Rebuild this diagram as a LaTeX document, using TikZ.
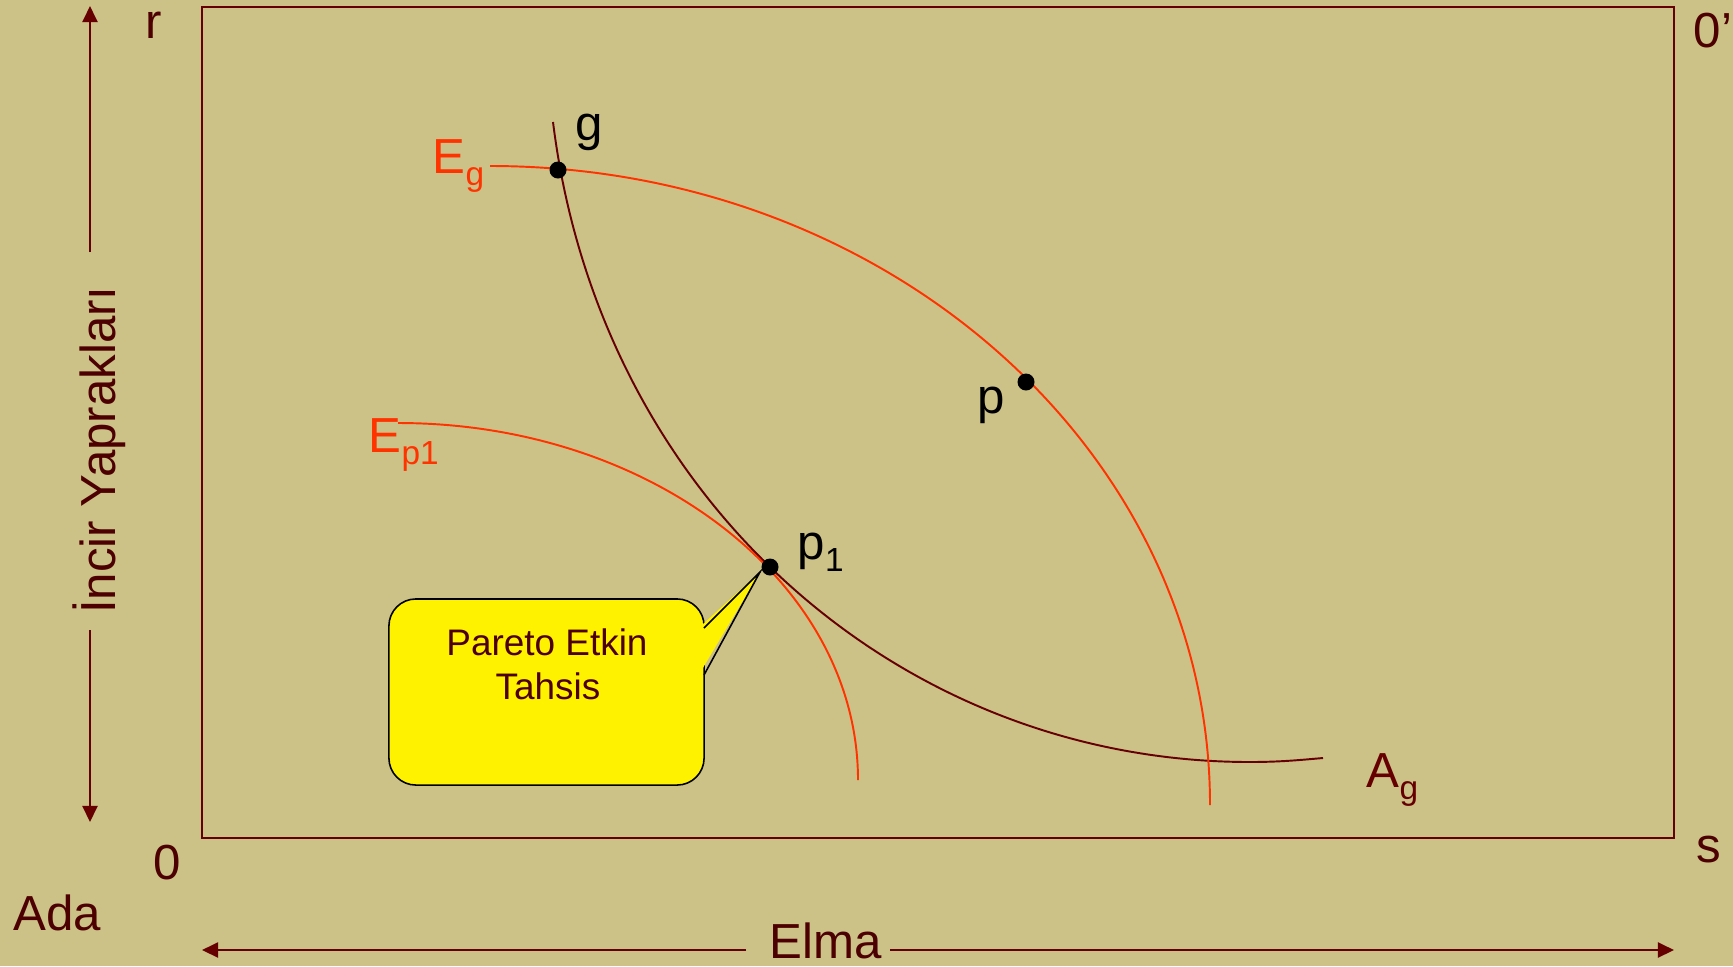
\documentclass[tikz,border=0pt]{standalone}
\usepackage{fontspec}
\setmainfont{Liberation Sans}
\usetikzlibrary{arrows.meta}
\definecolor{bgtan}{RGB}{204,193,135}
\definecolor{framered}{RGB}{102,0,0}
\definecolor{textred}{RGB}{77,0,0}
\definecolor{curvered}{RGB}{255,51,0}
\newcommand{\lblfont}{\fontsize{14}{16}\selectfont}
\newcommand{\subtxt}[1]{\raisebox{-3.5pt}{\fontsize{9.5}{11}\selectfont #1}}

\begin{document}
\begin{tikzpicture}[x=0.01cm, y=-0.01cm,
    frameline/.style={draw=framered, line width=0.6pt},
    axisarrow/.style={frameline, -{Triangle[width=4.3pt,length=4.6pt]}},
    lab/.style={inner sep=0pt, font=\lblfont, text=textred},
    ptlab/.style={inner sep=0pt, font=\lblfont, text=black},
    elab/.style={inner sep=0pt, font=\lblfont, text=curvered},
    acurve/.style={draw=framered, line width=0.55pt},
    ecurve/.style={draw=curvered, line width=0.55pt},
    ptdot/.style={circle, fill=black, inner sep=0pt, minimum size=0.17cm},
    calloutbox/.style={draw=black, fill=yellow, line width=0.45pt,
      rounded corners=0.27cm, inner sep=0pt},
    calloutlab/.style={inner sep=0pt, font=\fontsize{10.5}{12.5}\selectfont, text=textred},
  ]
  % background and margins
  \fill[bgtan] (0,0) rectangle (1733,966);
  \useasboundingbox (0,0) rectangle (1733,966);

  % Edgeworth box
  \coordinate (o)  at (202,838);
  \coordinate (o2) at (1674,7);
  \draw[frameline] (o) rectangle (o2);

  % axis labels
  \node[lab, anchor=base west] (r)   at (145,38)  {r};
  \node[lab, anchor=base west] (oo)  at (1693,47) {0’};
  \node[lab, anchor=base]      (zero) at (167,879) {0};
  \node[lab, anchor=base west] (s)   at (1696,862) {s};
  \node[lab, anchor=base west] (ada) at (13,930)  {Ada};
  \node[lab, anchor=base west] (elma) at (769,958) {Elma};
  \node[lab, anchor=base, rotate=90] (incir) at (115,450) {İncir Yaprakları};

  % axis arrows
  \coordinate (ytop) at (90,6);
  \coordinate (yup)  at (90,252);
  \coordinate (ydn)  at (90,630);
  \coordinate (ybot) at (90,822);
  \draw[axisarrow] (yup) -- (ytop);
  \draw[axisarrow] (ydn) -- (ybot);
  \coordinate (xleft)  at (202,950);
  \coordinate (xl)     at (746,950);
  \coordinate (xr)     at (890,950);
  \coordinate (xright) at (1674,950);
  \draw[axisarrow] (xl) -- (xleft);
  \draw[axisarrow] (xr) -- (xright);

  % indifference curves
  \draw[acurve] (553,122) .. controls (600,500) and (900,762) .. (1250,762)
    .. controls (1280,762) and (1300,760) .. (1323,758);
  \draw[ecurve] (490,166) .. controls (888,166) and (1210,452) .. (1210,805);
  \draw[ecurve] (398,423) .. controls (652,423) and (858,583) .. (858,780);

  % allocations
  \node[ptdot] (g)  at (558,170) {};
  \node[ptdot] (p)  at (1026,382) {};
  \node[ptdot] (p1) at (770,567) {};
  \node[ptlab, anchor=base west] (glab)  at (575,140) {g};
  \node[ptlab, anchor=base west] (plab)  at (977,413) {p};
  \node[ptlab, anchor=base west] (p1lab) at (797,559) {p\subtxt{1}};
  \node[elab, anchor=base west] (eglab)  at (432,173) {E\subtxt{g}};
  \node[elab, anchor=base west] (ep1lab) at (368,452) {E\subtxt{p1}};
  \node[lab, text=framered, anchor=base west] (aglab) at (1366,787) {A\subtxt{g}};

  % callout
  \node[calloutbox, minimum width=3.15cm, minimum height=1.86cm] (callout) at (546.5,692) {};
  \coordinate (tip)    at (760,572);
  \coordinate (ptrtop) at (704,628);
  \coordinate (ptrbot) at (704,675);
  \fill[yellow] ([xshift=-1.5pt]ptrtop) -- (tip) -- ([xshift=-1.5pt]ptrbot) -- cycle;
  \draw[black, line width=0.45pt] (ptrtop) -- (tip) -- (ptrbot);
  \node[calloutlab, anchor=base] (pareto) at (547,655) {Pareto Etkin};
  \node[calloutlab, anchor=base] (tahsis) at (548,699) {Tahsis};
\end{tikzpicture}
\end{document}
